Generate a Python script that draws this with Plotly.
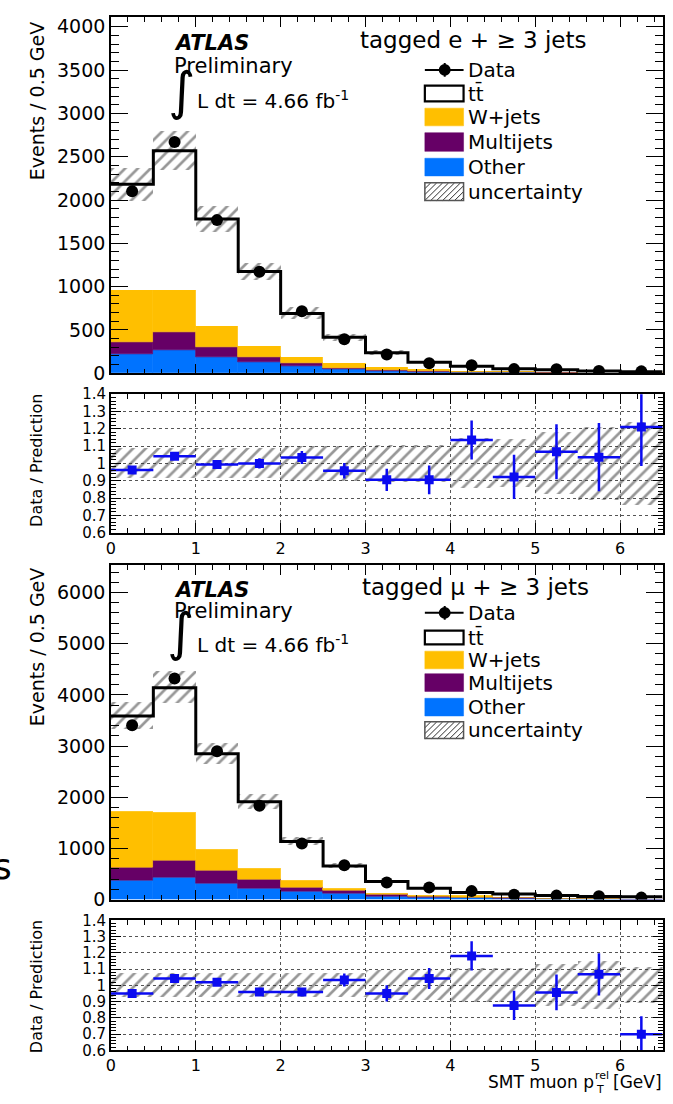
import plotly.graph_objects as go

W, H = 673, 1104


def X(px):
    return px / W


def Y(py):
    return 1 - py / H


# ---------------- data ----------------
bin_centers = [0.25, 0.75, 1.25, 1.75, 2.25, 2.75, 3.25, 3.75, 4.25, 4.75, 5.25, 5.75, 6.25]
bin_edges = [0.0, 0.5, 1.0, 1.5, 2.0, 2.5, 3.0, 3.5, 4.0, 4.5, 5.0, 5.5, 6.0, 6.5]
x_ticks = [0, 1, 2, 3, 4, 5, 6]
ratio_ticks = [0.6, 0.7, 0.8, 0.9, 1.0, 1.1, 1.2, 1.3, 1.4]
ratio_ticktext = ["0.6", "0.7", "0.8", "0.9", "1", "1.1", "1.2", "1.3", "1.4"]

# electron channel
e_data = [2100, 2670, 1768, 1172, 716, 394, 217, 116, 92, 48, 46, 25, 22]
e_ttbar = [1219, 1608, 1234, 861, 510, 295, 163, 84, 52, 33, 27, 15, 8]
e_wjets = [600, 490, 249, 121, 64, 56, 35, 20, 12, 8, 5, 4, 6]
e_multijets = [136, 200, 117, 67, 38, 15, 10, 6, 4, 3, 5, 2, 1]
e_other = [226, 272, 181, 125, 79, 49, 30, 18, 12, 8, 5, 4, 3]
e_unc = [0.087, 0.087, 0.086, 0.086, 0.10, 0.10, 0.107, 0.107, 0.143, 0.14, 0.178, 0.212, 0.24]
e_ratio = [0.962, 1.042, 0.994, 1.0, 1.034, 0.958, 0.905, 0.905, 1.135, 0.922, 1.067, 1.036, 1.21]
e_ratio_err = [0.02, 0.02, 0.02, 0.03, 0.038, 0.045, 0.064, 0.083, 0.113, 0.128, 0.159, 0.197, 0.225]

# muon channel
mu_data = [3405, 4320, 2900, 1835, 1095, 672, 335, 235, 165, 96, 77, 66, 38]
mu_ttbar = [1866, 2440, 1860, 1293, 752, 433, 225, 135, 68, 67, 48, 36, 34]
mu_wjets = [1083, 936, 414, 223, 140, 51, 27, 18, 25, 10, 8, 8, 8]
mu_multijets = [268, 337, 267, 172, 83, 57, 30, 20, 12, 8, 6, 4, 3]
mu_other = [369, 427, 306, 223, 159, 115, 70, 50, 35, 25, 18, 14, 10]
mu_unc = [0.075, 0.075, 0.075, 0.075, 0.075, 0.075, 0.09, 0.09, 0.107, 0.107, 0.13, 0.147, 0.11]
mu_ratio = [0.951, 1.043, 1.02, 0.96, 0.96, 1.034, 0.951, 1.043, 1.182, 0.877, 0.957, 1.069, 0.70]
mu_ratio_err = [0.01, 0.01, 0.012, 0.018, 0.02, 0.04, 0.05, 0.065, 0.09, 0.09, 0.11, 0.13, 0.11]

# ---------------- style ----------------
FONT = "DejaVu Sans"
BLUE = "#0073ff"
PURPLE = "#660066"
ORANGE = "#ffbf00"
RBLUE = "#0b0bf0"
HCOL = "#303030"
HATCH = dict(color="rgba(0,0,0,0)", line=dict(width=0),
             pattern=dict(shape="/", fgcolor=HCOL, bgcolor="rgba(0,0,0,0)",
                          size=9, solidity=0.3, fillmode="overlay"))

fig = go.Figure()
half_width = [(b - a) / 2 for a, b in zip(bin_edges[:-1], bin_edges[1:])]
widths = [2 * h for h in half_width]


def add_main(xa, ya, data, ttbar, wj, mj, oth, unc):
    s1 = list(oth)
    s2 = [a + b for a, b in zip(s1, mj)]
    s3 = [a + b for a, b in zip(s2, wj)]
    total = [a + b for a, b in zip(s3, ttbar)]
    layers = [(oth, [0] * len(oth), BLUE), (mj, s1, PURPLE), (wj, s2, ORANGE)]
    for vals, base, col in layers:
        fig.add_trace(go.Bar(x=bin_centers, y=vals, base=base, width=widths,
                             marker=dict(color=col, line=dict(width=0.6, color=col)),
                             xaxis=xa, yaxis=ya, showlegend=False, hoverinfo="skip"))
    fig.add_trace(go.Bar(x=bin_centers, y=ttbar, base=s3, width=widths,
                         marker=dict(color="white", line=dict(width=0)),
                         xaxis=xa, yaxis=ya, showlegend=False, hoverinfo="skip"))
    fig.add_trace(go.Scatter(x=bin_edges, y=total + [total[-1]], mode="lines",
                             line=dict(shape="hv", color="black", width=3),
                             xaxis=xa, yaxis=ya, showlegend=False, hoverinfo="skip"))
    fig.add_trace(go.Bar(x=bin_centers, y=[2 * t * u for t, u in zip(total, unc)],
                         base=[t * (1 - u) for t, u in zip(total, unc)], width=widths,
                         marker=HATCH, xaxis=xa, yaxis=ya, showlegend=False, hoverinfo="skip"))
    fig.add_trace(go.Scatter(x=bin_centers, y=data, mode="markers",
                             marker=dict(color="black", size=12, symbol="circle"),
                             xaxis=xa, yaxis=ya, showlegend=False, hoverinfo="skip"))


def add_ratio(xa, ya, ratio, err, unc):
    fig.add_trace(go.Bar(x=bin_centers, y=[2 * u for u in unc], base=[1 - u for u in unc],
                         width=widths, marker=HATCH, xaxis=xa, yaxis=ya,
                         showlegend=False, hoverinfo="skip"))
    fig.add_trace(go.Scatter(x=bin_centers, y=ratio, mode="markers",
                             marker=dict(color=RBLUE, size=9, symbol="square"),
                             error_x=dict(type="data", array=half_width, width=0,
                                          thickness=2.5, color=RBLUE),
                             error_y=dict(type="data", array=err, width=0,
                                          thickness=2.5, color=RBLUE),
                             xaxis=xa, yaxis=ya, showlegend=False, hoverinfo="skip",
                             cliponaxis=True))


add_main("x", "y", e_data, e_ttbar, e_wjets, e_multijets, e_other, e_unc)
add_ratio("x2", "y2", e_ratio, e_ratio_err, e_unc)
add_main("x3", "y3", mu_data, mu_ttbar, mu_wjets, mu_multijets, mu_other, mu_unc)
add_ratio("x4", "y4", mu_ratio, mu_ratio_err, mu_unc)

# ---------------- axes ----------------
XDOM = [X(106.7), X(662.5)]


def xcfg(anchor, labels, grid):
    return dict(domain=XDOM, anchor=anchor, range=[0, 6.5], showline=True,
                linecolor="black", linewidth=1.5, mirror="ticks", ticks="inside",
                ticklen=10, tickwidth=1, tickcolor="black", tickmode="array",
                tickvals=x_ticks, showticklabels=labels,
                tickfont=dict(family=FONT, size=16, color="black"),
                minor=dict(ticks="inside", dtick=0.2, tick0=0, ticklen=5,
                           tickwidth=1, tickcolor="black", showgrid=False),
                zeroline=False, showgrid=grid, griddash="dot", gridcolor="#555555",
                gridwidth=1, fixedrange=True)


def ymain(anchor, dom, top, dtick, mdtick):
    return dict(domain=dom, anchor=anchor, range=[0, top], showline=True,
                linecolor="black", linewidth=1.5, mirror="ticks", ticks="inside",
                ticklen=17, tickwidth=1, tickcolor="black", dtick=dtick, tick0=0,
                tickfont=dict(family=FONT, size=19, color="black"),
                minor=dict(ticks="inside", dtick=mdtick, tick0=0, ticklen=8,
                           tickwidth=1, tickcolor="black", showgrid=False),
                zeroline=False, showgrid=False, fixedrange=True)


def yratio(anchor, dom):
    return dict(domain=dom, anchor=anchor, range=[0.5999, 1.4001], showline=True,
                linecolor="black", linewidth=1.5, mirror="ticks", ticks="inside",
                ticklen=10, tickwidth=1, tickcolor="black", tickmode="array",
                tickvals=ratio_ticks, ticktext=ratio_ticktext,
                tickfont=dict(family=FONT, size=15, color="black"),
                minor=dict(ticks="inside", dtick=0.02, tick0=0.6, ticklen=5,
                           tickwidth=1, tickcolor="black", showgrid=False),
                zeroline=False, showgrid=True, griddash="dot", gridcolor="#555555",
                gridwidth=1, fixedrange=True)


fig.update_layout(
    width=W, height=H, margin=dict(l=0, r=0, t=0, b=0),
    paper_bgcolor="white", plot_bgcolor="white", barmode="overlay", bargap=0,
    showlegend=False, font=dict(family=FONT, color="black"),
    xaxis=xcfg("y", False, False),
    yaxis=ymain("x", [Y(371), Y(8.3)], 4111, 500, 100),
    xaxis2=xcfg("y2", True, True),
    yaxis2=yratio("x2", [Y(533.3), Y(392.3)]),
    xaxis3=xcfg("y3", False, False),
    yaxis3=ymain("x3", [Y(907), Y(566.7)], 6529, 1000, 200),
    xaxis4=xcfg("y4", True, True),
    yaxis4=yratio("x4", [Y(1060.7), Y(928.3)]),
)

# ---------------- text & legends ----------------
ann = []
shapes = []
PAD = 3  # compensate annotation padding for left-anchored texts


def text(x, y, s, size, xanchor="left", yanchor="middle", angle=0):
    if xanchor == "left":
        x = x - PAD
    ann.append(dict(x=X(x), y=Y(y), xref="paper", yref="paper", text=s, showarrow=False,
                    xanchor=xanchor, yanchor=yanchor, textangle=angle, borderpad=0,
                    font=dict(family=FONT, size=size, color="black")))


def rect(x0, y0, x1, y1, fill, line, lw):
    shapes.append(dict(type="rect", xref="paper", yref="paper", x0=X(x0), x1=X(x1),
                       y0=Y(y1), y1=Y(y0), fillcolor=fill,
                       line=dict(color=line, width=lw)))


def seg(x0, y0, x1, y1, col, lw):
    shapes.append(dict(type="line", xref="paper", yref="paper", x0=X(x0), x1=X(x1),
                       y0=Y(y0), y1=Y(y1), line=dict(color=col, width=lw)))


def hatch_box(x0, y0, x1, y1):
    h = y1 - y0
    step = 6
    x = x0 - h
    while x < x1:
        tmin = max(0, x0 - x)
        tmax = min(h, x1 - x)
        if tmin < tmax:
            seg(x + tmin, y1 - tmin, x + tmax, y1 - tmax, HCOL, 1)
        x += step
    rect(x0, y0, x1, y1, "rgba(0,0,0,0)", "#555555", 1.5)


def legend(rows, boxes):
    lx0, lx1, tx = 423, 462, 468
    # Data
    yd = rows[0]
    seg(lx0, yd, lx1, yd, "black", 2)
    seg(443, yd - 7, 443, yd + 7, "black", 2)
    shapes.append(dict(type="circle", xref="paper", yref="paper", x0=X(437), x1=X(449),
                       y0=Y(yd + 6), y1=Y(yd - 6), fillcolor="black",
                       line=dict(color="black", width=0)))
    text(tx, yd, "Data", 20)
    # ttbar
    b = boxes[0]
    rect(lx0, b[0], lx1, b[1], "white", "black", 2.2)
    text(tx, rows[1], "tt\u0304", 20)
    for (b0, b1), col, lab, ry in [(boxes[1], ORANGE, "W+jets", rows[2]),
                                   (boxes[2], PURPLE, "Multijets", rows[3]),
                                   (boxes[3], BLUE, "Other", rows[4])]:
        rect(lx0, b0, lx1, b1, col, col, 0.5)
        text(tx, ry, lab, 20)
    hatch_box(lx0, boxes[4][0], lx1, boxes[4][1])
    text(tx, rows[5], "uncertainty", 20)


# top panel
text(360, 32, "tagged e + \u2265 3 jets", 23)
legend([62, 86, 110, 135.5, 161, 186],
       [(78, 94), (101, 119), (126, 145), (152, 170), (177, 195)])
text(172.7, 35, "<b><i>ATLAS</i></b>", 21)
text(172.7, 58, "Preliminary", 21)
text(177.5, 84, "\u222b", 52, xanchor="center")
text(195, 93, "L dt = 4.66 fb<sup>-1</sup>", 20)
text(31.7, 12, "Events / 0.5 GeV", 19, xanchor="center", yanchor="top", angle=-90)
text(31.7, 391, "Data / Prediction", 16, xanchor="center", yanchor="top", angle=-90)

# bottom panel
text(361.7, 588.3, "tagged \u03bc + \u2265 3 jets", 23)
legend([615, 640, 663, 686, 711, 734],
       [(633, 647), (654, 672), (677, 695), (702, 720), (726, 743)])
text(172.7, 591.7, "<b><i>ATLAS</i></b>", 21)
text(172.7, 613.3, "Preliminary", 21)
text(177, 635, "\u222b", 52, xanchor="center")
text(195, 646.7, "L dt = 4.66 fb<sup>-1</sup>", 20)
text(31.7, 568, "Events / 0.5 GeV", 19, xanchor="center", yanchor="top", angle=-90)
text(31.7, 927, "Data / Prediction", 16, xanchor="center", yanchor="top", angle=-90)

# x axis title: SMT muon p_T^rel [GeV] with stacked sub/superscript
text(594, 1093, "SMT muon p", 17, xanchor="right")
text(596, 1086, "rel", 11)
text(597, 1100, "T", 11)
text(663, 1093, "[GeV]", 17, xanchor="right")
# cropped letter at left edge
text(8, 873, "s", 36, xanchor="right")

fig.update_layout(annotations=ann, shapes=shapes)
fig.write_html("out.html")
